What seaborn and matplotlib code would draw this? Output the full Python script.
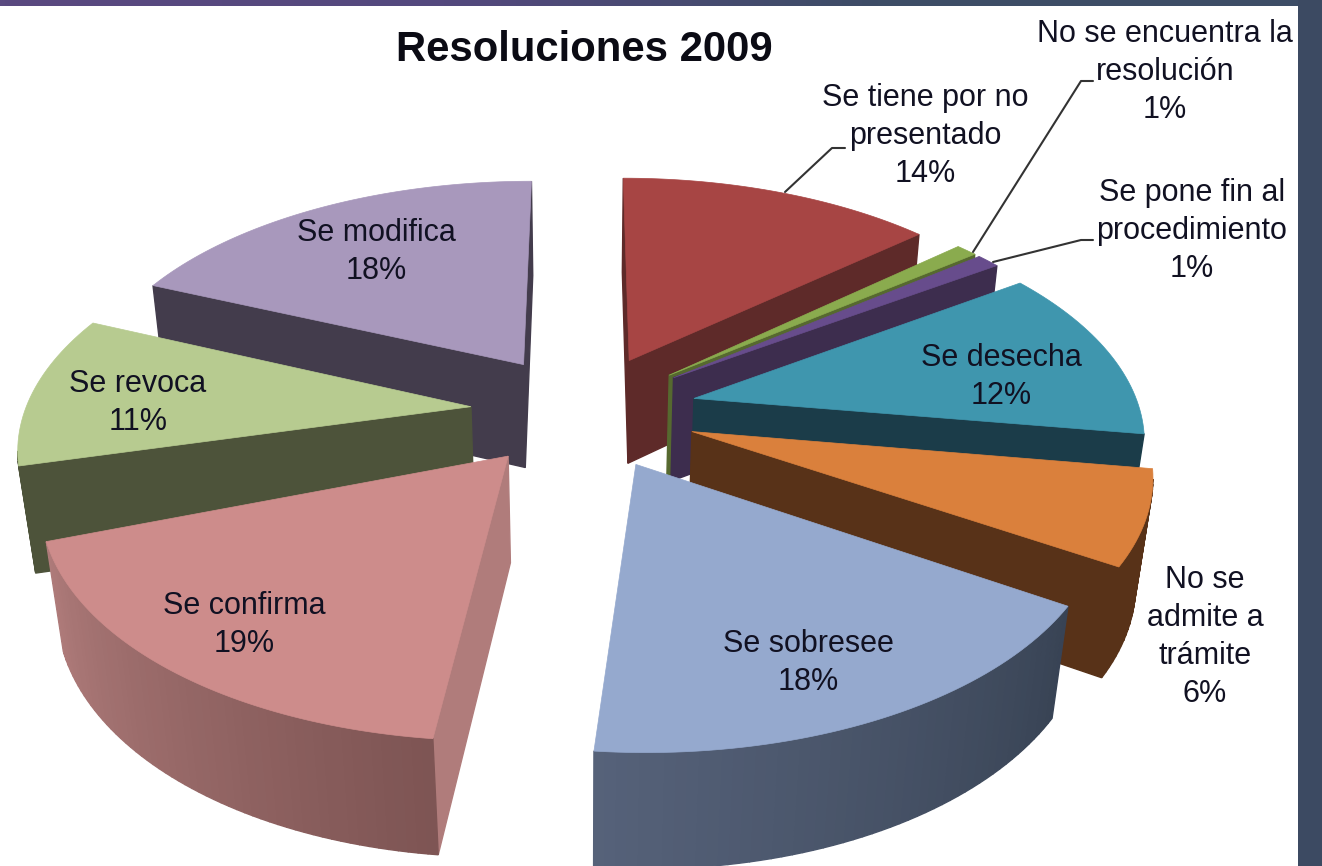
import numpy as np
import pandas as pd
import seaborn as sns
import matplotlib
matplotlib.use("Agg")
import matplotlib.pyplot as plt
from matplotlib.patches import Polygon
from matplotlib.colors import LinearSegmentedColormap

categories = ["Se tiene por no\npresentado", "No se encuentra la\nresolución", "Se pone fin al\nprocedimiento",
              "Se desecha", "No se\nadmite a\ntrámite", "Se sobresee", "Se confirma", "Se revoca", "Se modifica"]
# unrounded shares; the labels print the rounded percentages
values = [13.5, 0.9, 1.0, 12.1, 6.5, 17.5, 19.4, 10.6, 18.5]
percent_labels = [14, 1, 1, 12, 6, 18, 19, 11, 18]
top_colors = ["#A74544", "#8AAB4E", "#674C8C", "#3F96AE", "#DA803C", "#95A9CE", "#CD8C8B", "#B7CB90", "#A898BC"]
wall_light = ["#5E2A29", "#56692F", "#3D2D4E", "#1B3C49", "#583218", "#56627A", "#B07C7B", "#4D533A", "#433C4C"]
wall_dark = ["#5E2A29", "#56692F", "#3D2D4E", "#1B3C49", "#583218", "#384354", "#7D5453", "#4D533A", "#433C4C"]
start_trim_deg = [0, 0, 0, 0, 0, 0, 1, 0, 0]
end_trim_deg = [0, 0, 0, 0, 0, 0, 5, 0, 0]

df = pd.DataFrame({"cat": categories, "val": values, "top": top_colors, "wl": wall_light, "wd": wall_dark,
                   "trim0": np.radians(start_trim_deg), "trim1": np.radians(end_trim_deg)})

sns.set_theme(style="white")
plt.rcParams["font.family"] = ["Liberation Sans", "DejaVu Sans"]

fig = plt.figure(figsize=(13.22, 8.66), dpi=100)
ax = fig.add_axes([0, 0, 1, 1])
ax.set_xlim(0, 1322)
ax.set_ylim(866, 0)
ax.axis("off")

CX, CY, RX, RY, KP, KZ, H = 584, 411, 446, 225, 0.155, 0.03, 108
EXPLODE = 0.255


def project(x, y, z=0.0):
    s = 1 / (1 + KP * y + KZ * z)
    return CX + RX * x * s, CY + (-RY * y + H * z) * s


df["frac"] = df["val"] / df["val"].sum()
df["a0"] = 2 * np.pi * df["frac"].cumsum().shift(fill_value=0)
df["a1"] = 2 * np.pi * df["frac"].cumsum()
df["mid"] = (df["a0"] + df["a1"]) / 2
df["ox"] = EXPLODE * np.sin(df["mid"])
df["oy"] = EXPLODE * np.cos(df["mid"])


def quad(p, q, color):
    pts = [project(*p, 0), project(*q, 0), project(*q, 1), project(*p, 1)]
    ax.add_patch(Polygon(pts, closed=True, fc=color, ec=color, lw=1.0))


for _, r in df.sort_values("oy", ascending=False).iterrows():
    n = max(6, int(r["frac"] * 300))
    ang = np.linspace(r["a0"] + r["trim0"], r["a1"] - r["trim1"], n + 1)
    rim = [(r["ox"] + np.sin(a), r["oy"] + np.cos(a)) for a in ang]
    apex = (r["ox"], r["oy"])
    outline = [apex] + rim
    faces = list(zip(outline, outline[1:] + outline[:1]))
    shades = sns.blend_palette([r["wl"], r["wd"]], n + 2)
    ranked = sorted(range(len(faces)), key=lambda i: -(faces[i][0][1] + faces[i][1][1]))
    for i in ranked:
        p, q = faces[i]
        if project(*q)[0] < project(*p)[0]:
            if i == 0 or i == len(faces) - 1:
                c = r["wl"]
            else:
                c = shades[len(shades) - 1 - i]
            quad(p, q, c)
    ax.add_patch(Polygon([project(*p) for p in outline], closed=True, fc=r["top"], ec=r["top"], lw=0.5))

# slide background bands
band = LinearSegmentedColormap.from_list("b", ["#5A4A80", "#54497E", "#3D4D66", "#3D4D66"])
ax.imshow(np.linspace(0, 1, 256)[None, :], cmap=band, extent=(0, 1322, 6, 0), aspect="auto", zorder=5)
ax.fill_between([1298, 1322], 0, 866, color="#3C4A62", lw=0, zorder=5)
ax.set_xlim(0, 1322)
ax.set_ylim(866, 0)

FS = 22


def lab(i, x, y):
    ax.text(x, y, f"{categories[i]}\n{percent_labels[i]}%", ha="center", va="center", fontsize=FS,
            color="#111122", linespacing=1.35, zorder=6)


lab(0, 925, 136)
lab(1, 1165, 72)
lab(2, 1192, 231)
lab(3, 1001, 377)
lab(4, 1205, 637)
lab(5, 808, 663)
lab(6, 244, 625)
lab(7, 138, 403)
lab(8, 376, 252)
ax.text(584, 50, "Resoluciones 2009", ha="center", va="center", fontsize=30.2, fontweight="bold",
        color="#0B0B14", zorder=6)

for xs, ys in [([785, 832, 845], [192, 148, 148]), ([973, 1081, 1093], [252, 81, 81]), ([993, 1081, 1093], [262, 240, 240])]:
    ax.plot(xs, ys, color="#333333", lw=1.5, zorder=6)

fig.savefig("out.png", dpi=100)
